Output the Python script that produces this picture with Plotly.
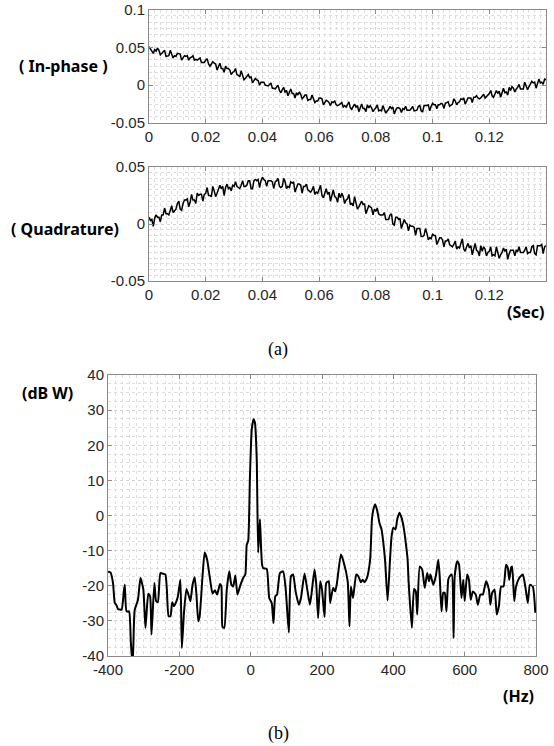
import plotly.graph_objects as go

# ---------------- data ----------------
# time-domain samples, every 0.0005 s from 0 to 0.14 s, values in units of 1e-3
dt = 0.0005
inphase_milli = [
    51, 48, 46, 42, 47, 45, 49, 46, 40, 42,
    45, 46, 38, 39, 39, 46, 42, 36, 39, 38,
    42, 42, 41, 33, 37, 39, 38, 39, 33, 36,
    37, 39, 33, 34, 33, 35, 36, 30, 30, 30,
    33, 35, 28, 25, 28, 31, 29, 28, 20, 25,
    29, 22, 22, 17, 25, 22, 22, 20, 14, 17,
    18, 22, 14, 13, 11, 19, 14, 7, 9, 11,
    14, 10, 11, 3, 7, 9, 7, 6, 0, 4,
    4, 4, 0, -1, -1, 1, 3, -4, -4, -5,
    -2, 0, -7, -10, -6, -3, -9, -7, -14, -8,
    -5, -11, -11, -17, -10, -13, -9, -12, -18, -16,
    -13, -13, -20, -19, -19, -13, -17, -23, -21, -21,
    -17, -17, -18, -26, -23, -20, -21, -23, -27, -22,
    -23, -21, -26, -27, -26, -25, -23, -29, -27, -29,
    -25, -22, -30, -32, -28, -25, -29, -27, -35, -29,
    -25, -31, -31, -35, -26, -30, -27, -30, -35, -32,
    -30, -26, -34, -33, -34, -27, -31, -37, -34, -32,
    -28, -31, -29, -38, -33, -30, -30, -31, -36, -31,
    -32, -28, -33, -33, -33, -31, -28, -34, -33, -33,
    -28, -27, -34, -35, -27, -27, -27, -26, -34, -28,
    -24, -26, -26, -31, -26, -26, -24, -25, -31, -24,
    -23, -22, -28, -27, -25, -18, -21, -26, -23, -22,
    -18, -19, -17, -25, -20, -17, -17, -17, -23, -16,
    -16, -14, -17, -18, -17, -15, -12, -17, -15, -14,
    -11, -7, -14, -16, -11, -7, -11, -8, -16, -8,
    -4, -10, -9, -13, -3, -7, -2, -4, -9, -5,
    -3, 1, -5, -5, -5, 4, 0, -6, -2, 1,
    5, 3, 4, -4, 4, 8, 3, 4, 1, 8,
    7,
]
quadrature_milli = [
    6, 3, 4, -2, 5, 8, 6, 6, 2, 8,
    8, 14, 9, 9, 8, 12, 16, 10, 12, 13,
    18, 20, 13, 12, 18, 21, 21, 22, 15, 19,
    26, 21, 21, 18, 27, 25, 26, 26, 20, 26,
    27, 32, 25, 25, 24, 33, 29, 24, 27, 30,
    34, 31, 33, 25, 32, 35, 31, 32, 29, 34,
    33, 37, 33, 32, 31, 34, 38, 33, 33, 34,
    38, 38, 31, 31, 38, 39, 38, 39, 32, 38,
    41, 39, 38, 33, 38, 38, 38, 37, 31, 37,
    38, 40, 33, 32, 33, 40, 37, 31, 33, 32,
    37, 36, 37, 28, 32, 35, 35, 34, 27, 33,
    33, 35, 30, 29, 28, 30, 33, 26, 28, 27,
    30, 34, 25, 23, 27, 31, 26, 28, 20, 26,
    30, 24, 23, 19, 27, 23, 27, 24, 18, 21,
    22, 26, 17, 18, 16, 24, 19, 13, 15, 17,
    20, 17, 18, 9, 13, 16, 15, 14, 8, 13,
    11, 14, 9, 8, 8, 8, 10, 4, 4, 4,
    8, 9, 0, -1, 6, 6, 4, 5, -4, 1,
    4, 1, 0, -6, -1, -2, -2, -3, -10, -4,
    -4, -4, -11, -11, -10, -4, -8, -14, -12, -13,
    -9, -10, -10, -18, -15, -12, -12, -14, -20, -15,
    -15, -13, -18, -19, -20, -18, -15, -22, -20, -21,
    -17, -13, -22, -24, -20, -17, -21, -19, -27, -21,
    -17, -23, -24, -28, -19, -24, -20, -22, -28, -25,
    -24, -20, -28, -27, -28, -20, -24, -30, -27, -25,
    -21, -24, -22, -31, -26, -23, -23, -23, -28, -23,
    -24, -20, -25, -25, -25, -23, -20, -26, -25, -25,
    -20, -19, -26, -27, -19, -19, -19, -18, -26, -20,
    -19,
]

spec_freq = [
    -400, -393, -386, -381, -377, -372, -362, -356, -353, -348, -341, -336, -331, -327,
    -325, -316, -309, -301, -295, -287, -282, -278, -270, -265, -260, -253, -245, -239,
    -235, -230, -225, -220, -215, -208, -204, -197, -193, -187, -180, -173, -169, -163,
    -157, -152, -147, -143, -135, -129, -122, -115, -107, -100, -94, -86, -82, -79, -74,
    -67, -60, -54, -49, -43, -37, -30, -21, -15, -11, -7, -2, 3, 8, 12, 17, 21, 26, 29,
    32, 35, 45, 52, 59, 64, 69, 74, 82, 91, 98, 107, 113, 119, 126, 135, 141, 151, 158,
    166, 171, 179, 184, 189, 195, 200, 207, 212, 219, 223, 231, 237, 242, 253, 260, 272,
    277, 281, 287, 296, 302, 309, 314, 319, 326, 335, 340, 344, 349, 355, 361, 367, 372,
    377, 384, 391, 395, 400, 406, 411, 417, 423, 430, 436, 440, 443, 452, 458, 463, 467,
    474, 481, 488, 495, 500, 504, 512, 519, 526, 530, 535, 540, 544, 549, 554, 558, 564,
    569, 572, 579, 584, 591, 596, 600, 607, 612, 617, 623, 631, 637, 644, 651, 660, 668,
    672, 677, 684, 690, 696, 702, 709, 716, 721, 725, 730, 733, 739, 744, 753, 763, 770,
    777, 783, 791, 798,
]
spec_db = [
    -16, -16.2, -19.2, -24.9, -25.4, -26.6, -26.8, -22, -19.7, -27.3, -27.3, -36, -43, -30,
    -26.8, -24, -17.8, -21, -32, -22.3, -23, -33.9, -19.2, -24.4, -24.6, -16.4, -16.6, -16.8,
    -21, -28.7, -28.7, -24.7, -25.8, -24.4, -23, -18.3, -37.7, -27.7, -20.9, -23, -24.4, -19.8,
    -17.6, -22.5, -30.1, -28.7, -17.3, -10.5, -12.6, -17.3, -22.2, -21.3, -22.5, -19.5, -20.2, -31.7, -32,
    -21.1, -15.9, -19.7, -20.2, -17.1, -22.5, -20.2, -17.8, -16.8, -8.3, -7.3, 11.2, 24.5, 27.4, 26.4, 16, -10.6, -1.1, -8.7,
    -14, -15, -15.2, -23.5, -24.9, -30.6, -23, -22.5, -16.4, -15.9, -20.7, -33.3, -17.3, -16.8, -21.6, -25.4, -23.5, -16.5, -20.6,
    -25.4, -22, -15.4, -19.7, -29.2, -18.7, -21.1, -28.9, -19.2, -18.7, -24.9, -20.6, -21.6, -19.2, -11.1, -13, -18.7,
    -31.5, -20.2, -23.5, -16.8, -17.3, -19, -18.3, -19, -17.8, -12.5, -1.1, 1.7, 3.2, 1.3, -2.1, -4, -7.8,
    -13, -24.2, -12, -6, -3.5, -4, -1.1, 0.8, -0.6, -4, -8.7, -12.5, -19.2, -32, -20.9, -21.6, -28.2,
    -14.5, -15.4, -20.6, -16.4, -18.7, -16.8, -19.7, -17.3, -12.6, -17.3, -27.3, -22, -22, -27.3, -18.3, -17.3, -16.8,
    -34.9, -17.3, -13, -13.9, -23.5, -18.3, -24.4, -16.8, -18.3, -24, -21.6, -22.5, -25.4, -22.5, -22.5, -18.7, -21.1,
    -25.4, -22, -21.1, -28.2, -25.8, -20.2, -20.2, -14, -14.9, -18.3, -14.9, -14.5, -24.4, -20.2, -17.8, -16.8, -20.2,
    -24.9, -19.7, -20.2, -27.7,
]

# tick labels
t_ticks = [0, 0.02, 0.04, 0.06, 0.08, 0.1, 0.12]
t_ticklabels = ["0", "0.02", "0.04", "0.06", "0.08", "0.1", "0.12"]
i_ticks = [-0.05, 0, 0.05, 0.1]
i_ticklabels = ["-0.05", "0", "0.05", "0.1"]
q_ticks = [-0.05, 0, 0.05]
q_ticklabels = ["-0.05", "0", "0.05"]
f_ticks = [-400, -200, 0, 200, 400, 600, 800]
f_ticklabels = ["-400", "-200", "0", "200", "400", "600", "800"]
db_ticks = [-40, -30, -20, -10, 0, 10, 20, 30, 40]
db_ticklabels = ["-40", "-30", "-20", "-10", "0", "10", "20", "30", "40"]

# ---------------- figure ----------------
W, H = 554, 746
inphase = [v / 1000 for v in inphase_milli]
quadrature = [v / 1000 for v in quadrature_milli]

fig = go.Figure()
fig.add_trace(go.Scatter(y=inphase, x0=0, dx=dt, mode="lines",
                         line=dict(color="black", width=1.5), xaxis="x", yaxis="y"))
fig.add_trace(go.Scatter(y=quadrature, x0=0, dx=dt, mode="lines",
                         line=dict(color="black", width=1.5), xaxis="x2", yaxis="y2"))
fig.add_trace(go.Scatter(x=spec_freq, y=spec_db, mode="lines",
                         line=dict(color="black", width=2, shape="spline", smoothing=0.5),
                         xaxis="x3", yaxis="y3"))

def px_x(p):
    return p / W

def px_y(p):
    return 1 - p / H

AX_COL = "#8a8a8a"
TXT_COL = "#262626"
GRID_COL = "#dedede"
tickfont = dict(family="Liberation Sans, Arial, sans-serif", size=15, color=TXT_COL)

def axis(domain, rng, tickvals, ticktext, minor_dtick, tick0, anchor):
    return dict(
        domain=domain, range=rng, anchor=anchor,
        tickmode="array", tickvals=tickvals, ticktext=ticktext,
        ticks="inside", ticklen=4, tickcolor=AX_COL, tickwidth=1,
        showline=True, linecolor=AX_COL, linewidth=1, mirror="ticks",
        showgrid=True, gridcolor="#d2d2d2", griddash="dot", gridwidth=1,
        minor=dict(dtick=minor_dtick, tick0=tick0, showgrid=True,
                   gridcolor=GRID_COL, griddash="dot", gridwidth=1, ticks=""),
        zeroline=False, tickfont=tickfont, automargin=False,
    )

top_x = [px_x(149), px_x(546)]
fig.update_layout(
    width=W, height=H,
    margin=dict(l=0, r=0, t=0, b=0),
    paper_bgcolor="white", plot_bgcolor="white",
    showlegend=False,
    xaxis=axis(top_x, [0, 0.14], t_ticks, t_ticklabels, 0.002, 0, "y"),
    yaxis=axis([px_y(123), px_y(9.5)], [-0.05, 0.1], i_ticks, i_ticklabels, 0.05 / 6, -0.05, "x"),
    xaxis2=axis(top_x, [0, 0.14], t_ticks, t_ticklabels, 0.002, 0, "y2"),
    yaxis2=axis([px_y(281), px_y(167)], [-0.05, 0.05], q_ticks, q_ticklabels, 0.005, -0.05, "x2"),
    xaxis3=axis([px_x(108), px_x(536)], [-400, 800], f_ticks, f_ticklabels, 20, -400, "y3"),
    yaxis3=axis([px_y(656), px_y(375)], [-40, 40], db_ticks, db_ticklabels, 2.5, -40, "x3"),
)

label_font = dict(family="Noto Sans, sans-serif", size=16, color="black")
cap_font = dict(family="Liberation Serif, Times New Roman, serif", size=18, color="black")

def ann(text, x, y, font, xanchor="center"):
    fig.add_annotation(text=text, x=px_x(x), y=px_y(y), xref="paper", yref="paper",
                       showarrow=False, font=font, xanchor=xanchor, yanchor="middle")

ann("<b>( In-phase )</b>", 63, 66, label_font)
ann("<b>( Quadrature)</b>", 65, 229, label_font)
ann("<b>(Sec)</b>", 546, 312, label_font, xanchor="right")
ann("(a)", 278, 349, cap_font)
ann("<b>(dB W)</b>", 47, 393, label_font)
ann("<b>(Hz)</b>", 536, 696, label_font, xanchor="right")
ann("(b)", 278, 733, cap_font)

fig.write_html(
    "out.html",
    config={"displayModeBar": False},
    post_script="document.body.style.margin='0px';document.body.style.padding='0px';"
                "document.documentElement.style.overflow='hidden';",
)
